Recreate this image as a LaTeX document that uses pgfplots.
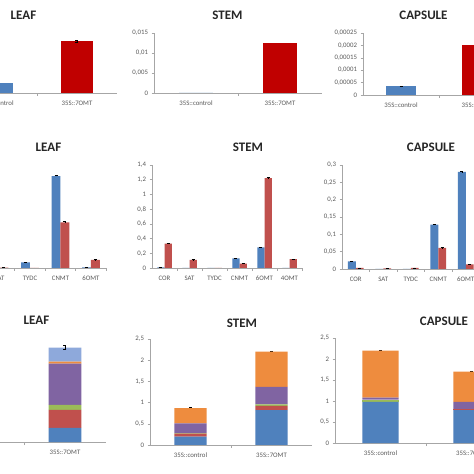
\documentclass[border=0pt]{standalone}
\usepackage{pgfplots}
\usepackage{pgfplotstable}
\pgfplotsset{compat=1.18}
\usepackage{fontspec}
\setmainfont{Carlito}
\definecolor{xblue}{HTML}{4F81BD}
\definecolor{xred}{HTML}{C0504D}
\definecolor{xdred}{HTML}{C00000}
\definecolor{xgreen}{HTML}{9BBB59}
\definecolor{xpurple}{HTML}{8064A2}
\definecolor{xorange}{HTML}{EE8C3E}
\definecolor{xlblue}{HTML}{8EA9DB}
\definecolor{axgray}{HTML}{A6A6A6}
\definecolor{labgray}{HTML}{595959}
\definecolor{ttl}{HTML}{262626}

\pgfplotsset{
 exc/.style={
  scale only axis, anchor=south west,
  axis x line*=bottom, axis y line*=left,
  axis line style={draw=axgray, line width=0.6pt},
  ymin=0,
  tick align=outside,
  major tick length=2.5pt,
  xtick style={draw=none},
  ytick style={draw=axgray, line width=0.5pt},
  tick label style={font=\fontsize{6.8}{8}\selectfont, text=labgray},
  /pgf/number format/assume math mode=true,
  yticklabel style={/pgf/number format/.cd, use comma, fixed, precision=5},
  scaled y ticks=false,
  xticklabel style={yshift=-2pt},
  extra x tick labels={},
  extra x tick style={xtick style={draw=axgray, line width=0.5pt}, major tick length=3pt},
  every axis plot/.append style={draw=none},
  error bars/error bar style={draw=black, line width=0.5pt},
  error bars/error mark options={rotate=90, draw=black, mark size=1.5pt, line width=0.5pt},
 },
}
\tikzset{ttlst/.style={font=\bfseries\fontsize{13}{15}\selectfont, text=ttl}}

\pgfplotstableread{
x b be r re
0 0.02 0 0.02 0
1 0.005 0 0.005 0
2 0.075 0.003 0 0
3 1.25 0.01 0.62 0.01
4 0.01 0 0.11 0.005
}\leafB
\pgfplotstableread{
x b be r re
0 0.01 0 0.33 0.01
1 0 0 0.11 0.005
2 0 0 0 0
3 0.13 0.005 0.06 0.005
4 0.28 0.005 1.22 0.01
5 0 0 0.12 0.005
}\stemB
\pgfplotstableread{
x b be r re
0 0.022 0.001 0.003 0.0005
1 0 0 0.002 0.0005
2 0 0 0.003 0.0005
3 0.128 0.001 0.061 0.001
4 0.28 0.001 0.013 0.001
}\capB
\pgfplotstableread{
x b r g p o l e
0 0.30 0.10 0.05 0.20 0.30 0.10 0.02
1 0.34 0.44 0.12 1.00 0.05 0.34 0.05
}\leafC
\pgfplotstableread{
x b r g p o l e
0 0.20 0.07 0.01 0.23 0.36 0 0.01
1 0.82 0.10 0.04 0.41 0.83 0 0.01
}\stemC
\pgfplotstableread{
x b r g p o l e
0 0.98 0 0.05 0.05 1.12 0 0.01
1 0.78 0.02 0 0.18 0.72 0 0.01
}\capC

\begin{document}
\begin{tikzpicture}
\useasboundingbox (0pt,0pt) rectangle (474pt,474pt);
\clip (0pt,0pt) rectangle (474pt,474pt);
\fill[white] (0pt,0pt) rectangle (474pt,474pt);

% ---------------- Row 1 ----------------
\begin{axis}[exc, at={(-43pt,381pt)}, width=160pt, height=60pt,
  xmin=-0.5, xmax=1.5, ymax=0.015, ytick={0,0.005,0.01,0.015},
  xtick={0,1}, xticklabels={35S::control,35S::7OMT}, extra x ticks={0.5},
  ybar, bar width=0.4]
\addplot[fill=xblue, bar shift=0pt] coordinates {(0,0.0025)};
\addplot[fill=xdred, bar shift=0pt, error bars/.cd, y dir=both, y explicit] coordinates {(1,0.013) +- (0,0.0002)};
\end{axis}

\begin{axis}[exc, at={(154pt,381pt)}, width=168pt, height=60pt,
  xmin=-0.5, xmax=1.5, ymax=0.015, ytick={0,0.005,0.01,0.015},
  xtick={0,1}, xticklabels={35S::control,35S::7OMT}, extra x ticks={0.5},
  ybar, bar width=0.4]
\addplot[fill=xblue, bar shift=0pt] coordinates {(0,0)};
\addplot[fill=xdred, bar shift=0pt] coordinates {(1,0.0125)};
\end{axis}

\begin{axis}[exc, at={(363pt,379pt)}, width=152pt, height=62pt,
  xmin=-0.5, xmax=1.5, ymax=0.00025, ytick={0,0.00005,0.0001,0.00015,0.0002,0.00025},
  xtick={0,1}, xticklabels={35S::control,35S::7OMT}, extra x ticks={0.5},
  ybar, bar width=0.4]
\addplot[fill=xblue, bar shift=0pt, error bars/.cd, y dir=both, y explicit] coordinates {(0,0.000035) +- (0,0.000001)};
\addplot[fill=xdred, bar shift=0pt] coordinates {(1,0.0002)};
\end{axis}

% ---------------- Row 2 ----------------
\begin{axis}[exc, at={(-46.25pt,206pt)}, width=152.5pt, height=103pt,
  xmin=-0.5, xmax=4.5, ymax=1.4, ytick={0,0.2,...,1.4},
  xtick={0,...,4}, xticklabels={COR,SAT,TYDC,CNMT,6OMT}, extra x ticks={0.5,1.5,2.5,3.5,4.5},
  ybar=0pt, bar width=0.29]
\addplot[fill=xblue, error bars/.cd, y dir=plus, y explicit] table[x=x,y=b,y error=be] {\leafB};
\addplot[fill=xred, error bars/.cd, y dir=plus, y explicit] table[x=x,y=r,y error=re] {\leafB};
\end{axis}

\begin{axis}[exc, at={(152pt,206pt)}, width=150pt, height=103pt,
  xmin=-0.5, xmax=5.5, ymax=1.4, ytick={0,0.2,...,1.4},
  xtick={0,...,5}, xticklabels={COR,SAT,TYDC,CNMT,6OMT,4OMT}, extra x ticks={0.5,1.5,2.5,3.5,4.5,5.5},
  ybar=0pt, bar width=0.29]
\addplot[fill=xblue, error bars/.cd, y dir=plus, y explicit] table[x=x,y=b,y error=be] {\stemB};
\addplot[fill=xred, error bars/.cd, y dir=plus, y explicit] table[x=x,y=r,y error=re] {\stemB};
\end{axis}

\begin{axis}[exc, at={(342pt,205pt)}, width=137.5pt, height=104pt,
  xmin=-0.5, xmax=4.5, ymax=0.3, ytick={0,0.05,0.1,0.15,0.2,0.25,0.3},
  xtick={0,...,4}, xticklabels={COR,SAT,TYDC,CNMT,6OMT}, extra x ticks={0.5,1.5,2.5,3.5,4.5},
  ybar=0pt, bar width=0.29]
\addplot[fill=xblue, error bars/.cd, y dir=plus, y explicit] table[x=x,y=b,y error=be] {\capB};
\addplot[fill=xred, error bars/.cd, y dir=plus, y explicit] table[x=x,y=r,y error=re] {\capB};
\end{axis}

% ---------------- Row 3 ----------------
\begin{axis}[exc, at={(-58pt,32pt)}, width=164pt, height=103pt,
  xmin=-0.5, xmax=1.5, ymax=2.5, ytick={0,0.5,...,2.5},
  xtick={0,1}, xticklabels={35S::control,35S::7OMT}, extra x ticks={0.5},
  ybar stacked, bar width=0.4]
\addplot[fill=xblue] table[x=x,y=b] {\leafC};
\addplot[fill=xred] table[x=x,y=r] {\leafC};
\addplot[fill=xgreen] table[x=x,y=g] {\leafC};
\addplot[fill=xpurple] table[x=x,y=p] {\leafC};
\addplot[fill=xorange] table[x=x,y=o] {\leafC};
\addplot[fill=xlblue, error bars/.cd, y dir=both, y explicit] table[x=x,y=l,y error=e] {\leafC};
\end{axis}

\begin{axis}[exc, at={(150pt,29pt)}, width=162pt, height=106pt,
  xmin=-0.5, xmax=1.5, ymax=2.5, ytick={0,0.5,...,2.5},
  xtick={0,1}, xticklabels={35S::control,35S::7OMT}, extra x ticks={0.5},
  ybar stacked, bar width=0.4]
\addplot[fill=xblue] table[x=x,y=b] {\stemC};
\addplot[fill=xred] table[x=x,y=r] {\stemC};
\addplot[fill=xgreen] table[x=x,y=g] {\stemC};
\addplot[fill=xpurple] table[x=x,y=p] {\stemC};
\addplot[fill=xorange] table[x=x,y=o] {\stemC};
\addplot[fill=xlblue, error bars/.cd, y dir=both, y explicit] table[x=x,y=l,y error=e] {\stemC};
\end{axis}

\begin{axis}[exc, at={(335pt,31pt)}, width=182pt, height=105pt,
  xmin=-0.5, xmax=1.5, ymax=2.5, ytick={0,0.5,...,2.5},
  xtick={0,1}, xticklabels={35S::control,35S::7OMT}, extra x ticks={0.5},
  ybar stacked, bar width=0.4]
\addplot[fill=xblue] table[x=x,y=b] {\capC};
\addplot[fill=xred] table[x=x,y=r] {\capC};
\addplot[fill=xgreen] table[x=x,y=g] {\capC};
\addplot[fill=xpurple] table[x=x,y=p] {\capC};
\addplot[fill=xorange] table[x=x,y=o] {\capC};
\addplot[fill=xlblue, error bars/.cd, y dir=both, y explicit] table[x=x,y=l,y error=e] {\capC};
\end{axis}

% ---------------- Titles ----------------
\node[ttlst] at (23.5pt,459pt) {LEAF};
\node[ttlst] at (227.5pt,459pt) {STEM};
\node[ttlst] at (423.5pt,459pt) {CAPSULE};
\node[ttlst] at (48.5pt,327pt) {LEAF};
\node[ttlst] at (248pt,327pt) {STEM};
\node[ttlst] at (431pt,327pt) {CAPSULE};
\node[ttlst] at (36.5pt,154pt) {LEAF};
\node[ttlst] at (242pt,151pt) {STEM};
\node[ttlst] at (444pt,153pt) {CAPSULE};
\end{tikzpicture}
\end{document}
